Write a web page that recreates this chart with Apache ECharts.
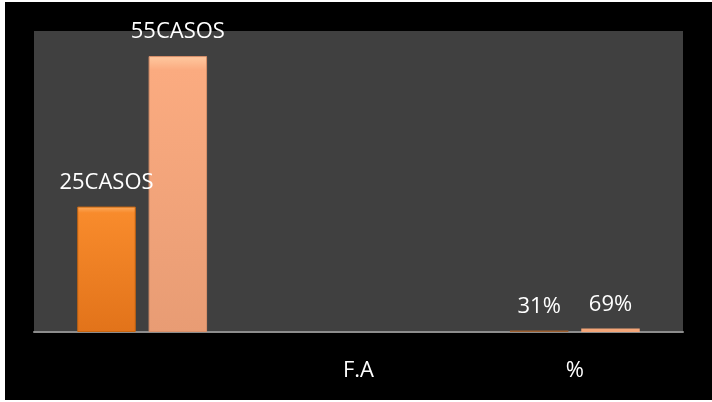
<!DOCTYPE html>
<html>
<head>
<meta charset="utf-8">
<script src="https://cdn.jsdelivr.net/npm/echarts@6/dist/echarts.min.js"></script>
<style>
  html, body { margin: 0; padding: 0; background: #ffffff; width: 712px; height: 402px; overflow: hidden; }
  #chart { position: absolute; left: 5px; top: 2px; width: 707px; height: 398px; background: #000000; }
</style>
</head>
<body>
<div id="chart"></div>
<script>
// Category labels along the x axis (first group has no label)
const categories = ['', 'F.A', '%'];
// Series values: case counts in the first group, shares (fractions) in the last group
const seriesA = [25, null, 0.31];
const seriesB = [55, null, 0.69];
// Text shown above each bar
const labelsA = ['25CASOS', '', '31%'];
const labelsB = ['55CASOS', '', '69%'];

const font = '"Open Sans", "Noto Sans", sans-serif';

// Vertical fill with a soft lighter bevel along the top edge
function grad(top, mid, bottom) {
  return {
    type: 'linear', x: 0, y: 0, x2: 0, y2: 1,
    colorStops: [
      { offset: 0, color: top },
      { offset: 0.05, color: mid },
      { offset: 1, color: bottom }
    ]
  };
}

const chart = echarts.init(document.getElementById('chart'), null, { renderer: 'canvas' });

const labelStyle = (texts) => ({
  show: true,
  position: 'top',
  distance: 13,
  color: '#ffffff',
  fontFamily: font,
  fontSize: 22,
  formatter: (p) => texts[p.dataIndex]
});

chart.setOption({
  backgroundColor: '#000000',
  animation: false,
  grid: {
    left: 29, right: 29, top: 29, bottom: 68,
    show: true, backgroundColor: '#404040', borderWidth: 0
  },
  xAxis: {
    type: 'category',
    data: categories,
    axisLine: { show: true, lineStyle: { color: '#8c8c8c', width: 2 } },
    axisTick: { show: false },
    axisLabel: { color: '#ffffff', fontFamily: font, fontSize: 22, margin: 28 }
  },
  yAxis: {
    type: 'value',
    min: 0, max: 60,
    show: false,
    splitLine: { show: false }
  },
  series: [
    {
      type: 'bar',
      data: seriesA.map((v, i) => i === 2
        ? { value: v, itemStyle: { color: '#9c5f30', borderWidth: 0 } }
        : v),
      barGap: '22%',
      barCategoryGap: '40%',
      itemStyle: {
        color: grad('#fdab5e', '#f88b2c', '#e2731a'),
        borderColor: '#c9650f', borderWidth: 1
      },
      label: labelStyle(labelsA)
    },
    {
      type: 'bar',
      data: seriesB.map((v, i) => i === 2
        ? { value: v, itemStyle: { color: '#f4a679', borderWidth: 0 } }
        : v),
      itemStyle: {
        color: grad('#ffc9a0', '#fbab80', '#e89c74'),
        borderColor: '#d9906a', borderWidth: 1
      },
      label: labelStyle(labelsB)
    }
  ]
});
</script>
</body>
</html>
